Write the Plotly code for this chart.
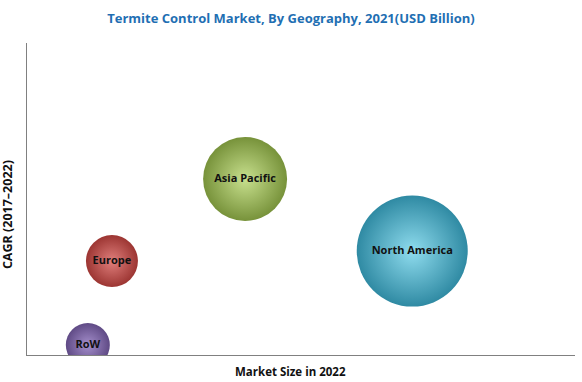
import plotly.graph_objects as go

regions = ["RoW", "Europe", "Asia Pacific", "North America"]
market_size_2022 = [11.1, 15.5, 39.8, 70.3]
cagr = [3.2, 30.1, 56.4, 33.3]
bubble_value = [2.2, 2.6, 4.2, 5.55]
edge_colors = ["#5f4a85", "#9c3532", "#77923a", "#2f8aa3"]
center_colors = ["#a58fcc", "#e07f7c", "#c8e08e", "#8fdcee"]

fig = go.Figure()
for i, r in enumerate(regions):
    fig.add_trace(go.Scatter(
        x=[market_size_2022[i]], y=[cagr[i]],
        mode="markers+text",
        text=[r],
        textposition="middle center",
        textfont=dict(family="Open Sans", size=11, color="#111111", weight="bold"),
        marker=dict(
            size=[bubble_value[i]], sizemode="diameter", sizeref=0.05,
            color=edge_colors[i],
            gradient=dict(type="radial", color=center_colors[i]),
            line=dict(width=0), opacity=1,
        ),
        cliponaxis=True,
        showlegend=False,
        hoverinfo="skip",
    ))

fig.update_layout(
    width=582, height=382,
    margin=dict(l=27, r=7, t=43, b=27),
    paper_bgcolor="white", plot_bgcolor="white",
    title=dict(text="<b>Termite Control Market, By Geography, 2021(USD Billion)</b>",
               x=0.5, xanchor="center", y=0.953, yanchor="middle",
               font=dict(family="Open Sans", size=13, color="#1f6fb3")),
    xaxis=dict(range=[0, 100], showgrid=False, zeroline=False, showticklabels=False,
               ticks="", showline=True, linecolor="#808080", linewidth=1),
    yaxis=dict(range=[0, 100], showgrid=False, zeroline=False, showticklabels=False,
               ticks="", showline=True, linecolor="#808080", linewidth=1),
    annotations=[
        dict(text="<b>Market Size in 2022</b>", xref="paper", yref="paper",
             x=0.48, y=-0.0225, xanchor="center", yanchor="top", showarrow=False,
             font=dict(family="Open Sans", size=11.5, color="#111111")),
        dict(text="<b>CAGR (2017–2022)</b>", xref="paper", yref="paper",
             x=-0.0164, y=0.45, xanchor="right", yanchor="middle", textangle=-90,
             showarrow=False, font=dict(family="Open Sans", size=12.5, color="#111111")),
    ],
)

fig.write_html("out.html", config={"displayModeBar": False},
               post_script="document.body.style.margin='0';")
